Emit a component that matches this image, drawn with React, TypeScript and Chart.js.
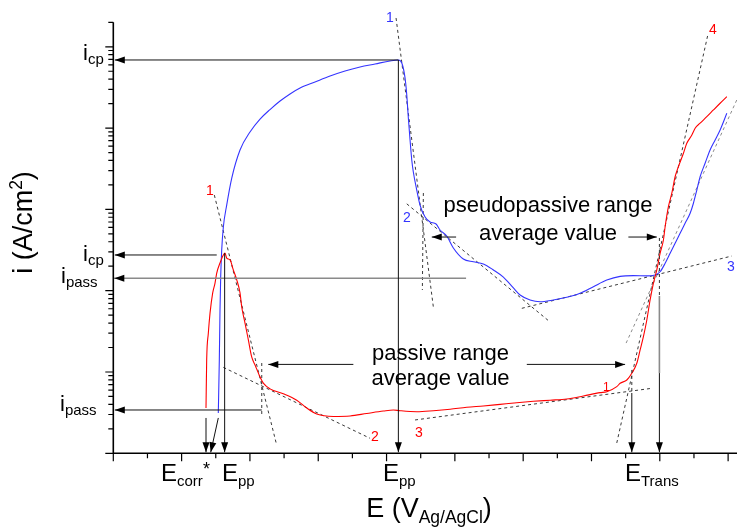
import React, { useEffect, useRef } from "react";
import { Chart, registerables } from "chart.js";

Chart.register(...registerables);

// Potential E in units of one major axis division; current density i in A/cm2
const redE = [1.357,1.367,1.391,1.416,1.455,1.489,1.514,1.562,1.611,1.635,1.660,1.709,1.757,1.807,1.855,1.880,1.928,1.977,2.026,2.075,2.148,2.196,2.294,2.489,2.685,2.832,2.978,3.221,3.466,3.710,3.953,4.100,4.198,4.442,4.685,4.930,5.174,5.417,5.662,5.906,6.149,6.394,6.638,6.881,7.126,7.224,7.370,7.419,7.517,7.590,7.663,7.712,7.760,7.810,7.858,7.906,7.956,8.004,8.053,8.078,8.126,8.176,8.224,8.272,8.346,8.395,8.469,8.517,8.590,8.688,8.785,8.883,8.981];
const redI = [3.6e-8,1.41e-7,3.0e-7,5.3e-7,9.4e-7,1.24e-6,1.65e-6,2.19e-6,2.75e-6,2.91e-6,2.52e-6,2.39e-6,1.80e-6,1.36e-6,9.4e-7,6.3e-7,4.0e-7,2.48e-7,1.53e-7,1.22e-7,8.7e-8,7.3e-8,6.2e-8,5.4e-8,4.5e-8,3.6e-8,3.04e-8,2.84e-8,2.88e-8,3.09e-8,3.31e-8,3.41e-8,3.34e-8,3.25e-8,3.34e-8,3.48e-8,3.68e-8,3.82e-8,4.0e-8,4.19e-8,4.36e-8,4.5e-8,4.65e-8,5.07e-8,5.57e-8,5.72e-8,6.6e-8,7.26e-8,7.97e-8,9.64e-8,1.28e-7,1.87e-7,2.72e-7,4.36e-7,7.69e-7,1.23e-6,1.80e-6,2.88e-6,4.2e-6,6.12e-6,1.08e-5,1.58e-5,2.52e-5,3.35e-5,4.9e-5,6.5e-5,8.2e-5,9.94e-5,1.15e-4,1.38e-4,1.67e-4,2.02e-4,2.43e-4];

const blueE = [1.537,1.552,1.562,1.572,1.587,1.611,1.660,1.734,1.855,2.001,2.148,2.294,2.441,2.587,2.734,2.953,3.173,3.392,3.612,3.832,4.051,4.173,4.223,4.271,4.296,4.319,4.344,4.369,4.392,4.442,4.490,4.564,4.637,4.725,4.783,4.881,4.978,5.124,5.271,5.417,5.564,5.710,5.857,5.955,6.101,6.247,6.442,6.638,6.833,7.028,7.224,7.419,7.613,7.810,7.931,8.004,8.078,8.151,8.224,8.297,8.370,8.444,8.492,8.542,8.590,8.663,8.736,8.810,8.883,8.981];
const blueI = [3.13e-8,1.41e-7,5.79e-7,1.47e-6,3.17e-6,6.07e-6,1.13e-5,2.43e-5,5.38e-5,8.96e-5,1.29e-4,1.69e-4,2.15e-4,2.63e-4,3.11e-4,3.69e-4,4.37e-4,5.04e-4,5.64e-4,6.14e-4,6.69e-4,6.88e-4,6.32e-4,4.13e-4,2.55e-4,1.33e-4,7.14e-5,4.05e-5,2.88e-5,1.73e-5,1.13e-5,8.06e-6,7.0e-6,6.61e-6,5.58e-6,4.71e-6,3.35e-6,2.45e-6,2.27e-6,2.13e-6,1.80e-6,1.47e-6,1.08e-6,8.85e-7,7.69e-7,7.32e-7,7.69e-7,8.29e-7,9.29e-7,1.12e-6,1.35e-6,1.50e-6,1.53e-6,1.52e-6,1.56e-6,1.71e-6,2.17e-6,2.88e-6,3.83e-6,5.08e-6,6.75e-6,8.95e-6,1.19e-5,1.73e-5,2.52e-5,3.69e-5,5.38e-5,7.14e-5,9.48e-5,1.52e-4];

// Tangent construction lines: [start, end]
const tangentE = [[4.139,4.685],[4.539,4.524],[4.296,6.394],[5.980,9.054],[7.507,9.127],[1.479,2.392],[1.611,3.758],[4.417,7.883],[7.370,8.703],[2.173,2.173]];
const tangentI = [[2.26e-3,6.30e-7],[1.59e-5,1.02e-6],[1.17e-5,4.12e-7],[6.07e-7,2.67e-6],[2.27e-7,2.22e-4],[1.50e-5,1.26e-8],[1.14e-7,1.53e-8],[2.57e-8,6.30e-8],[1.34e-8,1.40e-3],[1.29e-7,2.96e-8]];
const tangentShade = ["dark","dark","dark","dark","light","dark","dark","dark","dark","dark"];

// Annotation arrows [fromE, fromI, toE, toI]
const arrowLines = [
  [4.173,6.88e-4,0,6.88e-4],
  [4.173,6.88e-4,4.173,1e-8],
  [1.514,2.75e-6,0,2.75e-6],
  [1.63,2.9e-6,1.63,1e-8],
  [2.173,3.41e-8,0,3.41e-8],
  [1.357,2.72e-8,1.357,1e-8],
  [1.537,2.72e-8,1.426,1e-8],
  [3.514,1.24e-7,2.269,1.24e-7],
  [6.053,1.24e-7,7.492,1.24e-7],
  [5.018,4.57e-6,4.662,4.57e-6],
  [7.540,4.57e-6,7.956,4.57e-6],
  [7.590,5.52e-8,7.590,1e-8],
  [7.994,9.7e-8,7.994,1e-8],
];
const grayLines = [[5.164,1.42e-6,0,1.42e-6,1],[7.994,8.6e-7,7.994,9.7e-8,0]];
const dashedVerticals = [[7.590,1.06e-7,5.52e-8],[7.994,4.45e-6,8.6e-7]];

const X_MAX = 9.13;
const Y_MIN = 1e-8;
const Y_MAX = 2e-3;
const RED = "#ff0000";
const BLUE = "#3434ff";
const FONT = "'Liberation Sans', Arial, Helvetica, sans-serif";

function head(ctx: CanvasRenderingContext2D, x1: number, y1: number, x2: number, y2: number) {
  const len = 10, half = 3.5;
  const a = Math.atan2(y2 - y1, x2 - x1);
  const c = Math.cos(a), s = Math.sin(a);
  ctx.beginPath();
  ctx.moveTo(x2, y2);
  ctx.lineTo(x2 - len * c + half * s, y2 - len * s - half * c);
  ctx.lineTo(x2 - len * c - half * s, y2 - len * s + half * c);
  ctx.closePath();
  ctx.fill();
}

function subText(ctx: CanvasRenderingContext2D, x: number, y: number, main: string, sub: string, mainPx: number, subPx: number, dy: number) {
  ctx.font = `${mainPx}px ${FONT}`;
  ctx.fillText(main, x, y);
  const w = ctx.measureText(main).width;
  ctx.font = `${subPx}px ${FONT}`;
  ctx.fillText(sub, x + w, y + dy);
}

const overlay = {
  id: "overlay",
  beforeDraw(chart: any) {
    const c = chart.ctx;
    c.save();
    c.fillStyle = "#ffffff";
    c.fillRect(0, 0, chart.width, chart.height);
    c.restore();
  },
  afterDraw(chart: any) {
    const ctx: CanvasRenderingContext2D = chart.ctx;
    const xs = chart.scales.x, ys = chart.scales.y;
    const X = (v: number) => xs.getPixelForValue(v);
    const Y = (v: number) => ys.getPixelForValue(v);
    ctx.save();
    const x0 = X(0), yb = Y(Y_MIN), yt = Y(Y_MAX), xr = X(X_MAX);

    // gray lines
    ctx.strokeStyle = "#8a8a8a";
    ctx.fillStyle = "#000";
    ctx.lineWidth = 1.6;
    for (const g of grayLines) {
      ctx.beginPath();
      ctx.moveTo(X(g[0]), Y(g[1]));
      ctx.lineTo(X(g[2]), Y(g[3]));
      ctx.stroke();
      if (g[4]) head(ctx, X(g[0]), Y(g[1]), X(g[2]) + 1, Y(g[3]));
    }
    // dashed verticals
    ctx.strokeStyle = "#333";
    ctx.lineWidth = 1;
    ctx.setLineDash([3, 3]);
    for (const d of dashedVerticals) {
      ctx.beginPath();
      ctx.moveTo(X(d[0]), Y(d[1]));
      ctx.lineTo(X(d[0]), Y(d[2]));
      ctx.stroke();
    }
    ctx.setLineDash([]);
    // arrows
    ctx.strokeStyle = "#111";
    ctx.fillStyle = "#000";
    ctx.lineWidth = 1;
    for (const a of arrowLines) {
      const x1 = X(a[0]), y1 = Y(a[1]);
      let x2 = X(a[2]), y2 = Y(a[3]);
      if (a[2] === 0) x2 += 1.5;
      if (a[3] === Y_MIN) y2 -= 1;
      ctx.beginPath();
      ctx.moveTo(x1, y1);
      ctx.lineTo(x2, y2);
      ctx.stroke();
      head(ctx, x1, y1, x2, y2);
    }

    // axes
    ctx.strokeStyle = "#000";
    ctx.lineWidth = 1.6;
    ctx.beginPath();
    ctx.moveTo(x0, yt);
    ctx.lineTo(x0, yb + 0.8);
    ctx.moveTo(x0 - 0.8, yb);
    ctx.lineTo(xr, yb);
    ctx.stroke();
    ctx.lineWidth = 1.2;
    ctx.beginPath();
    for (let p = -8; p <= -3; p++) {
      for (let m = 1; m <= 9; m++) {
        const v = m * Math.pow(10, p);
        if (v > Y_MAX * 1.001) break;
        const y = Y(v);
        const len = m === 1 ? 8 : 5;
        ctx.moveTo(x0, y);
        ctx.lineTo(x0 - len, y);
      }
    }
    for (let k = 0; k * 0.5 <= X_MAX; k++) {
      const x = X(k * 0.5);
      const len = k % 2 === 0 ? 8 : 5;
      ctx.moveTo(x, yb);
      ctx.lineTo(x, yb + len);
    }
    ctx.stroke();

    // y-axis labels
    ctx.fillStyle = "#000";
    ctx.textAlign = "left";
    ctx.textBaseline = "alphabetic";
    subText(ctx, 83, 60, "i", "cp", 22, 15, 3.5);
    subText(ctx, 83, 261, "i", "cp", 22, 15, 3.5);
    subText(ctx, 61, 283, "i", "pass", 22, 15, 4);
    subText(ctx, 60, 411, "i", "pass", 22, 15, 4);

    // x-axis labels
    subText(ctx, 161, 481, "E", "corr", 24, 15, 5);
    ctx.font = `18px ${FONT}`;
    ctx.fillText("*", 203, 475);
    subText(ctx, 222, 481, "E", "pp", 24, 15, 5);
    subText(ctx, 383, 481, "E", "pp", 24, 15, 5);
    subText(ctx, 625, 481, "E", "Trans", 24, 15, 5);

    // axis titles
    {
      ctx.font = `27px ${FONT}`;
      const a = "E (V";
      const wa = ctx.measureText(a).width;
      ctx.font = `17.5px ${FONT}`;
      const b = "Ag/AgCl";
      const wb = ctx.measureText(b).width;
      ctx.font = `27px ${FONT}`;
      const wc = ctx.measureText(")").width;
      let sx = 429 - (wa + wb + wc) / 2;
      ctx.fillText(a, sx, 517);
      ctx.font = `17.5px ${FONT}`;
      ctx.fillText(b, sx + wa, 523);
      ctx.font = `27px ${FONT}`;
      ctx.fillText(")", sx + wa + wb, 517);
    }
    {
      ctx.save();
      ctx.translate(31.5, 222.5);
      ctx.rotate(-Math.PI / 2);
      ctx.font = `27px ${FONT}`;
      const a = "i (A/cm";
      const wa = ctx.measureText(a).width;
      ctx.font = `17.5px ${FONT}`;
      const wb = ctx.measureText("2").width;
      ctx.font = `27px ${FONT}`;
      const wc = ctx.measureText(")").width;
      const sx = -(wa + wb + wc) / 2;
      ctx.fillText(a, sx, 0);
      ctx.font = `17.5px ${FONT}`;
      ctx.fillText("2", sx + wa, -10);
      ctx.font = `27px ${FONT}`;
      ctx.fillText(")", sx + wa + wb, 0);
      ctx.restore();
    }

    // range texts
    ctx.font = `22px ${FONT}`;
    ctx.textAlign = "center";
    ctx.fillText("pseudopassive range", 548, 212);
    ctx.fillText("average value", 548, 240);
    ctx.fillText("passive range", 440.5, 360);
    ctx.fillText("average value", 440.5, 385);

    // tangent numbers
    ctx.textAlign = "left";
    ctx.font = `14px ${FONT}`;
    ctx.fillStyle = BLUE;
    ctx.fillText("1", 386, 22);
    ctx.fillText("2", 403, 222);
    ctx.fillText("3", 727, 271);
    ctx.fillStyle = RED;
    ctx.fillText("4", 709, 34);
    ctx.fillText("1", 206, 195);
    ctx.fillText("2", 371, 441);
    ctx.fillText("3", 415, 437);
    ctx.font = `12px ${FONT}`;
    ctx.fillText("1", 603, 391);
    ctx.restore();
  },
};

export default function App() {
  const ref = useRef<HTMLCanvasElement | null>(null);
  useEffect(() => {
    if (!ref.current) return;
    const datasets: any[] = [
      {
        label: "red",
        data: redE.map((e, k) => ({ x: e, y: redI[k] })),
        borderColor: RED,
        borderWidth: 1.1,
        pointRadius: 0,
        cubicInterpolationMode: "monotone",
      },
      {
        label: "blue",
        data: blueE.map((e, k) => ({ x: e, y: blueI[k] })),
        borderColor: BLUE,
        borderWidth: 1.1,
        pointRadius: 0,
        cubicInterpolationMode: "monotone",
      },
    ];
    tangentE.forEach((pair, k) => {
      datasets.push({
        label: "tangent" + k,
        data: pair.map((e, j) => ({ x: e, y: tangentI[k][j] })),
        borderColor: tangentShade[k] === "light" ? "#8c8c8c" : "#3a3a3a",
        borderWidth: 1,
        borderDash: [3, 3],
        pointRadius: 0,
        clip: false,
      });
    });
    const chart = new Chart(ref.current, {
      type: "line",
      data: { datasets },
      options: {
        animation: false,
        responsive: false,
        devicePixelRatio: 1,
        layout: { padding: { left: 113.3, top: 22.3, right: 0, bottom: 75.7 } },
        plugins: { legend: { display: false }, tooltip: { enabled: false } },
        scales: {
          x: { type: "linear", min: 0, max: X_MAX, display: false },
          y: { type: "logarithmic", min: Y_MIN, max: Y_MAX, display: false },
        },
      } as any,
      plugins: [overlay as any],
    });
    return () => chart.destroy();
  }, []);
  return (
    <div style={{ position: "fixed", left: 0, top: 0, width: 737, height: 529, background: "#fff" }}>
      <canvas ref={ref} width={737} height={529} style={{ width: 737, height: 529, display: "block" }} />
    </div>
  );
}
